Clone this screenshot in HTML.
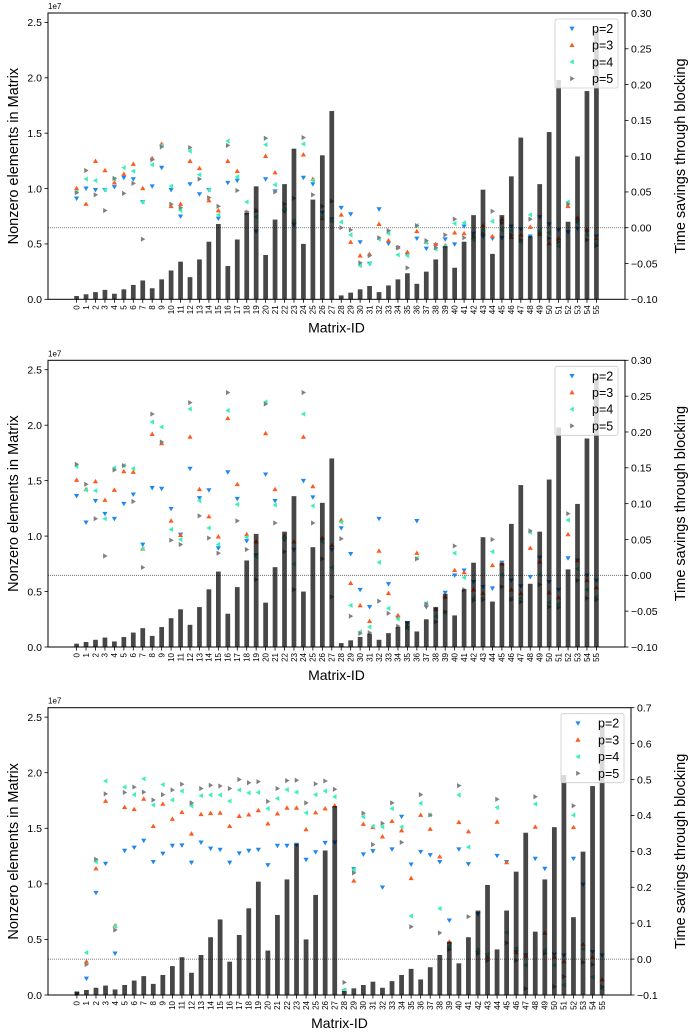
<!DOCTYPE html>
<html><head><meta charset="utf-8">
<style>
html,body{margin:0;padding:0;background:#fff;}
svg{display:block;font-family:"Liberation Sans","DejaVu Sans",sans-serif;}
</style></head>
<body>
<svg id="chart" width="689" height="1035" viewBox="0 0 689 1035" xmlns="http://www.w3.org/2000/svg"></svg>
<script>
const matrixIds = Array.from({length:56},(_,i)=>String(i));
const nonzeros = [0.03,0.045,0.065,0.085,0.05,0.09,0.13,0.17,0.10,0.18,0.26,0.34,0.20,0.36,0.52,0.68,0.30,0.54,0.78,1.02,0.40,0.72,1.04,1.36,0.50,0.90,1.30,1.70,0.035,0.06,0.09,0.12,0.065,0.125,0.18,0.235,0.14,0.25,0.36,0.48,0.285,0.52,0.76,0.99,0.41,0.76,1.11,1.46,0.57,1.04,1.51,1.98,0.70,1.29,1.88,2.43];
const seriesLabels = ["p=2","p=3","p=4","p=5"];

const panel1P2 = [0.041,0.055,0.053,0.053,0.057,0.07,0.068,0.036,0.058,0.084,0.053,0.016,0.061,0.047,0.053,0.013,0.063,0.066,0.021,-0.005,0.068,0.051,0.023,0.004,0.07,0.061,0.021,0.012,0.028,0.019,-0.02,-0.05,0.026,-0.022,-0.028,-0.038,-0.015,-0.029,-0.024,-0.016,-0.023,0.002,-0.008,-0.012,-0.015,-0.014,0.002,-0.002,-0.012,0.015,0.005,-0.003,-0.006,-0.001,-0.005,-0.012];
const panel1P3 = [0.055,0.033,0.093,0.08,0.063,0.075,0.089,0.055,0.097,0.117,0.03,0.033,0.093,0.083,0.038,0.024,0.093,0.079,0.022,0.024,0.1,0.077,0.027,0.009,0.102,0.068,0.013,0.01,0.018,-0.02,-0.039,-0.037,0.005,-0.018,-0.027,-0.034,-0.005,-0.02,-0.023,-0.025,-0.007,-0.008,-0.013,0.003,-0.012,0.012,-0.013,-0.01,0.001,-0.009,-0.022,-0.015,0.03,0.014,-0.003,-0.015];
const panel1P4 = [0.05,0.068,0.066,0.053,0.068,0.084,0.079,0.036,0.088,0.115,0.058,0.024,0.107,0.074,0.053,0.018,0.121,0.071,0.036,0.015,0.116,0.06,0.026,0.01,0.117,0.066,0.015,0.01,0.008,-0.01,-0.053,-0.05,-0.016,-0.008,-0.038,-0.039,0.003,-0.021,-0.03,-0.026,0.006,0.007,-0.017,-0.003,0.009,-0.003,-0.004,-0.02,0.018,-0.004,-0.007,-0.026,0.036,0.007,-0.01,-0.021];
const panel1P5 = [0.049,0.08,0.046,0.024,0.069,0.048,0.062,-0.016,0.095,0.113,0.033,0.028,0.112,0.068,0.042,0.03,0.115,0.052,0.021,0.024,0.125,0.05,0.033,0.041,0.126,0.046,0.03,0.037,0.0,-0.003,-0.049,-0.039,-0.014,-0.004,-0.028,-0.056,0.003,-0.018,-0.028,-0.01,0.012,-0.014,-0.012,-0.008,0.023,0.007,-0.01,-0.017,0.012,-0.008,-0.015,-0.02,0.033,0.01,-0.017,-0.025];

const panel2P2 = [0.111,0.074,0.104,0.086,0.079,0.1,0.113,0.043,0.122,0.121,0.093,0.057,0.149,0.108,0.119,0.038,0.144,0.107,0.048,0.028,0.141,0.104,0.05,0.036,0.132,0.109,0.049,0.036,0.066,0.03,-0.02,-0.044,0.079,-0.012,-0.059,-0.067,0.076,-0.044,-0.048,-0.024,0.0,0.007,-0.009,-0.016,-0.018,0.018,-0.007,-0.015,-0.002,0.025,-0.009,-0.02,0.024,0.021,0.0,-0.007];
const panel2P3 = [0.133,0.12,0.131,0.105,0.119,0.145,0.144,0.037,0.197,0.184,0.076,0.056,0.193,0.12,0.082,0.054,0.219,0.127,0.057,0.047,0.198,0.12,0.055,0.047,0.193,0.124,0.052,0.042,0.077,-0.011,-0.042,-0.064,0.034,-0.025,-0.056,-0.073,0.031,-0.041,-0.047,-0.03,0.007,0.004,-0.02,-0.025,0.014,0.016,-0.02,-0.025,0.038,0.019,-0.024,-0.031,0.057,0.021,-0.007,-0.017];
const panel2P4 = [0.152,0.119,0.118,0.079,0.15,0.153,0.149,0.037,0.214,0.207,0.064,0.05,0.232,0.104,0.066,0.043,0.23,0.099,0.053,0.026,0.242,0.098,0.052,0.016,0.225,0.097,0.047,0.011,0.074,-0.042,-0.079,-0.072,0.018,-0.046,-0.061,-0.074,0.024,-0.039,-0.057,-0.052,0.031,-0.003,-0.031,-0.032,0.033,0.001,-0.032,-0.032,0.06,0.001,-0.038,-0.04,0.077,0.009,-0.02,-0.03];
const panel2P5 = [0.155,0.127,0.079,0.027,0.147,0.153,0.103,0.011,0.225,0.186,0.049,0.043,0.241,0.083,0.052,0.031,0.255,0.076,0.036,-0.006,0.239,0.073,0.033,-0.02,0.255,0.073,0.023,-0.03,0.051,-0.057,-0.081,-0.08,-0.036,-0.053,-0.071,-0.072,0.023,-0.04,-0.065,-0.051,0.041,-0.02,-0.035,-0.034,0.05,-0.016,-0.034,-0.037,0.062,-0.013,-0.044,-0.045,0.086,-0.007,-0.032,-0.034];

const panel3P2 = [-0.097,-0.054,0.185,0.266,0.016,0.302,0.311,0.33,0.271,0.294,0.316,0.317,0.269,0.325,0.308,0.305,0.269,0.295,0.302,0.305,0.262,0.316,0.316,0.319,0.277,0.298,0.324,0.325,-0.088,0.251,0.292,0.301,0.2,0.306,0.397,0.264,0.299,0.29,0.271,0.108,0.306,0.265,0.126,0.011,0.288,0.271,0.02,0.011,0.28,0.252,0.013,0.011,0.28,0.208,0.02,0.011];
const panel3P3 = [-0.096,-0.007,0.252,0.44,0.093,0.423,0.417,0.446,0.37,0.432,0.39,0.409,0.349,0.403,0.406,0.407,0.37,0.398,0.402,0.414,0.377,0.405,0.421,0.421,0.361,0.408,0.419,0.427,-0.087,0.218,0.376,0.367,0.341,0.384,0.358,0.225,0.401,0.362,0.285,0.048,0.381,0.355,0.025,0.006,0.382,0.269,0.019,0.009,0.368,0.073,0.006,-0.007,0.367,0.041,0.006,-0.057];
const panel3P4 = [-0.095,0.018,0.271,0.496,0.091,0.479,0.458,0.502,0.429,0.486,0.443,0.468,0.427,0.455,0.457,0.457,0.44,0.471,0.463,0.464,0.419,0.447,0.472,0.465,0.407,0.458,0.468,0.452,-0.086,0.248,0.396,0.37,0.368,0.419,0.368,0.12,0.434,0.401,0.141,0.036,0.457,0.312,0.025,0.013,0.422,0.074,0.03,-0.017,0.432,0.025,-0.017,-0.072,0.401,0.028,-0.05,-0.082];
const panel3P5 = [-0.096,-0.015,0.278,0.46,0.081,0.464,0.479,0.465,0.443,0.458,0.471,0.487,0.435,0.475,0.484,0.482,0.475,0.5,0.491,0.494,0.439,0.475,0.497,0.498,0.435,0.488,0.496,0.473,-0.065,0.24,0.406,0.319,0.378,0.435,0.325,0.09,0.458,0.401,0.073,0.027,0.483,0.118,0.016,-0.004,0.445,0.045,-0.004,-0.082,0.452,0.016,-0.077,-0.049,0.427,-0.009,-0.015,-0.077];

const leftTicks = [0,0.5,1.0,1.5,2.0,2.5];
const rightTicks12 = [-0.10,-0.05,0.00,0.05,0.10,0.15,0.20,0.25,0.30];
const rightTicks3 = [-0.1,0.0,0.1,0.2,0.3,0.4,0.5,0.6,0.7];

const NS="http://www.w3.org/2000/svg";
const svg=document.getElementById('chart');
const colors=["#1e88f0","#ff5a1f","#3df0b8","#808080"];
function mk(tag,attrs,parent){const e=document.createElementNS(NS,tag);for(const k in attrs)e.setAttribute(k,attrs[k]);(parent||svg).appendChild(e);return e;}
function markerPath(kind,x,y,s){
  if(kind===0) return `M${x-s},${y-s*0.7}L${x+s},${y-s*0.7}L${x},${y+s}Z`;
  if(kind===1) return `M${x-s},${y+s*0.7}L${x+s},${y+s*0.7}L${x},${y-s}Z`;
  if(kind===2) return `M${x+s*0.7},${y-s}L${x+s*0.7},${y+s}L${x-s},${y}Z`;
  return `M${x-s*0.7},${y-s}L${x-s*0.7},${y+s}L${x+s},${y}Z`;
}
const fmtMinus=s=>s.replace('-','\u2212');

const panels=[
 {top:13,bottom:299.3,left:48,right:625,rmin:-0.1,rmax:0.3,rticks:rightTicks12,dec:2,series:[panel1P2,panel1P3,panel1P4,panel1P5]},
 {top:360.3,bottom:647,left:48,right:625,rmin:-0.1,rmax:0.3,rticks:rightTicks12,dec:2,series:[panel2P2,panel2P3,panel2P4,panel2P5]},
 {top:707.7,bottom:995,left:48,right:631,rmin:-0.1,rmax:0.7,rticks:rightTicks3,dec:1,series:[panel3P2,panel3P3,panel3P4,panel3P5]}
];

panels.forEach((p,pi)=>{
  const g=mk('g',{});
  
  
  const xlo=-3.025,xhi=58.025,ymax=2.585;
  const xs=v=>p.left+(v-xlo)/(xhi-xlo)*(p.right-p.left);
  const yl=v=>p.bottom-v/ymax*(p.bottom-p.top);
  const yr=v=>p.bottom-(v-p.rmin)/(p.rmax-p.rmin)*(p.bottom-p.top);
  const zl=mk('line',{x1:p.left,x2:p.right,y1:yr(0),y2:yr(0),stroke:'#555','stroke-width':0.8,'stroke-dasharray':'1,1'},g);
  
  
  p.series.forEach((arr,si)=>{
    arr.forEach((v,i)=>{
      const m=mk('path',{d:markerPath(si,xs(i),yr(v),2.6),fill:colors[si]},g);
      
      
    });
  });
  nonzeros.forEach((v,i)=>{
    const w=0.5/(xhi-xlo)*(p.right-p.left);
    const b=mk('rect',{x:xs(i)-w/2,y:yl(v),width:w,height:p.bottom-yl(v),fill:'#000','fill-opacity':0.72},g);
    
    
  });
  const fr=mk('rect',{x:p.left,y:p.top,width:p.right-p.left,height:p.bottom-p.top,fill:'none',stroke:'#000','stroke-width':1},g);
  
  
  leftTicks.forEach(t=>{
    mk('line',{x1:p.left-3.5,x2:p.left,y1:yl(t),y2:yl(t),stroke:'#000','stroke-width':0.8},g);
    const tx=mk('text',{x:p.left-6,y:yl(t)+3.8,'font-size':10.5,'text-anchor':'end'},g);
    tx.textContent=t.toFixed(1);
    
    
  });
  const ex=mk('text',{x:p.left,y:p.top-4,'font-size':8},g);
  ex.textContent='1e7';
  
  
  p.rticks.forEach(t=>{
    mk('line',{x1:p.right,x2:p.right+3.5,y1:yr(t),y2:yr(t),stroke:'#000','stroke-width':0.8},g);
    const tx=mk('text',{x:p.right+6,y:yr(t)+3.8,'font-size':10.5},g);
    tx.textContent=fmtMinus(t.toFixed(p.dec));
    
    
  });
  matrixIds.forEach((id,i)=>{
    mk('line',{x1:xs(i),x2:xs(i),y1:p.bottom,y2:p.bottom+3.5,stroke:'#000','stroke-width':0.8},g);
    const tx=mk('text',{x:0,y:0,'font-size':8,'text-anchor':'end',transform:`translate(${xs(i)+2.8},${p.bottom+6}) rotate(-90)`},g);
    tx.textContent=id;
    
    
  });
  const xt=mk('text',{x:(p.left+p.right)/2,y:p.bottom+33,'font-size':14,'text-anchor':'middle'},g);
  xt.textContent='Matrix-ID';
  
  
  const cy=(p.top+p.bottom)/2;
  const ylt=mk('text',{x:0,y:0,'font-size':14.5,'text-anchor':'middle',transform:`translate(18,${cy}) rotate(-90)`},g);
  ylt.textContent='Nonzero elements in Matrix';
  
  
  const yrt=mk('text',{x:0,y:0,'font-size':14.5,'text-anchor':'middle',transform:`translate(685,${cy}) rotate(-90)`},g);
  yrt.textContent='Time savings through blocking';
  
  
  const lg=mk('g',{},g);
  
  
  const lx=p.right-70,ly=p.top+6;
  mk('rect',{x:lx,y:ly,width:63,height:69,rx:2,fill:'#fff','fill-opacity':0.8,stroke:'#ccc','stroke-width':0.8},lg);
  seriesLabels.forEach((s,si)=>{
    const yy=ly+9.5+si*16.7;
    const m=mk('path',{d:markerPath(si,lx+17,yy,2.6),fill:colors[si]},lg);
    
    
    const t=mk('text',{x:lx+37,y:yy+4.5,'font-size':12.5},lg);
    t.textContent=s;
    
    
  });
});
</script>
</body></html>
